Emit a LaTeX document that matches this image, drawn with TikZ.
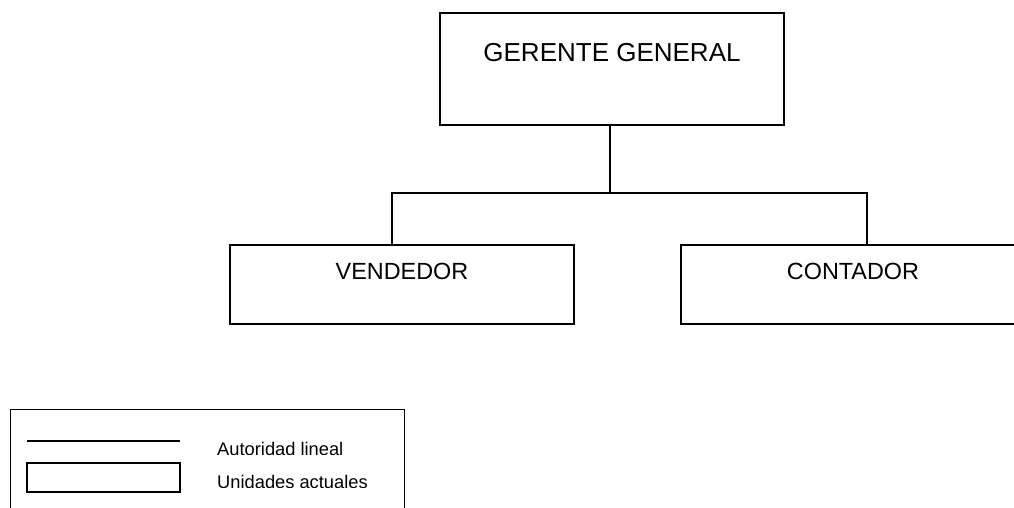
\documentclass[tikz,border=0pt]{standalone}
\usepackage{fontspec}
\setmainfont{Liberation Sans}
\begin{document}
\begin{tikzpicture}[x=1pt,y=-1pt,
  unitbox/.style={draw=black,line width=2.6pt,inner sep=0pt,outer sep=0pt,minimum width=344pt},
  conn/.style={draw=black,line width=1.1pt},
  bigtxt/.style={inner sep=0pt,anchor=base,font=\fontsize{26}{30}\selectfont},
  midtxt/.style={inner sep=0pt,anchor=base,font=\fontsize{23.4}{28}\selectfont},
  legtxt/.style={inner sep=0pt,anchor=base west,font=\fontsize{18.3}{22}\selectfont},
  legframe/.style={draw=black,line width=1pt}]
\useasboundingbox (0,0) rectangle (1014,508);
\clip (0,0) rectangle (1014,508);
% units
\node[unitbox,minimum height=112pt] (gg) at (612,69) {};
\node[bigtxt] (ggt) at (612,61.5) {GERENTE GENERAL};
\node[unitbox,minimum height=79pt] (vd) at (402,284.5) {};
\node[midtxt] (vdt) at (402,279) {VENDEDOR};
\node[unitbox,minimum height=79pt] (ct) at (853,284.5) {};
\node[midtxt] (ctt) at (853,279) {CONTADOR};
% connectors
\coordinate (jt) at (610,193);
\coordinate (jl) at (392,193);
\coordinate (jr) at (867,193);
\draw[conn] (gg.south -| jt) -- (jt);
\draw[conn] (vd.north -| jl) -- (jl) -- (jr) -- (ct.north -| jr);
% legend
\node[legframe,inner sep=0pt,outer sep=0pt,minimum width=394pt,minimum height=120pt] (leg) at (207,469) {};
\coordinate (la) at (27,441);
\coordinate (lb) at (180,441);
\draw[conn,line width=1.3pt] (la) -- (lb);
\node[unitbox,minimum width=153pt,minimum height=29pt] (lbox) at (103.5,477.5) {};
\begin{scope}
\clip (200,430) rectangle (400,454);
\node[legtxt] (lt1) at (217,455.5) {Autoridad lineal};
\end{scope}
\begin{scope}
\clip (200,465) rectangle (400,487);
\node[legtxt] (lt2) at (217,488.5) {Unidades actuales};
\end{scope}
\end{tikzpicture}
\end{document}
